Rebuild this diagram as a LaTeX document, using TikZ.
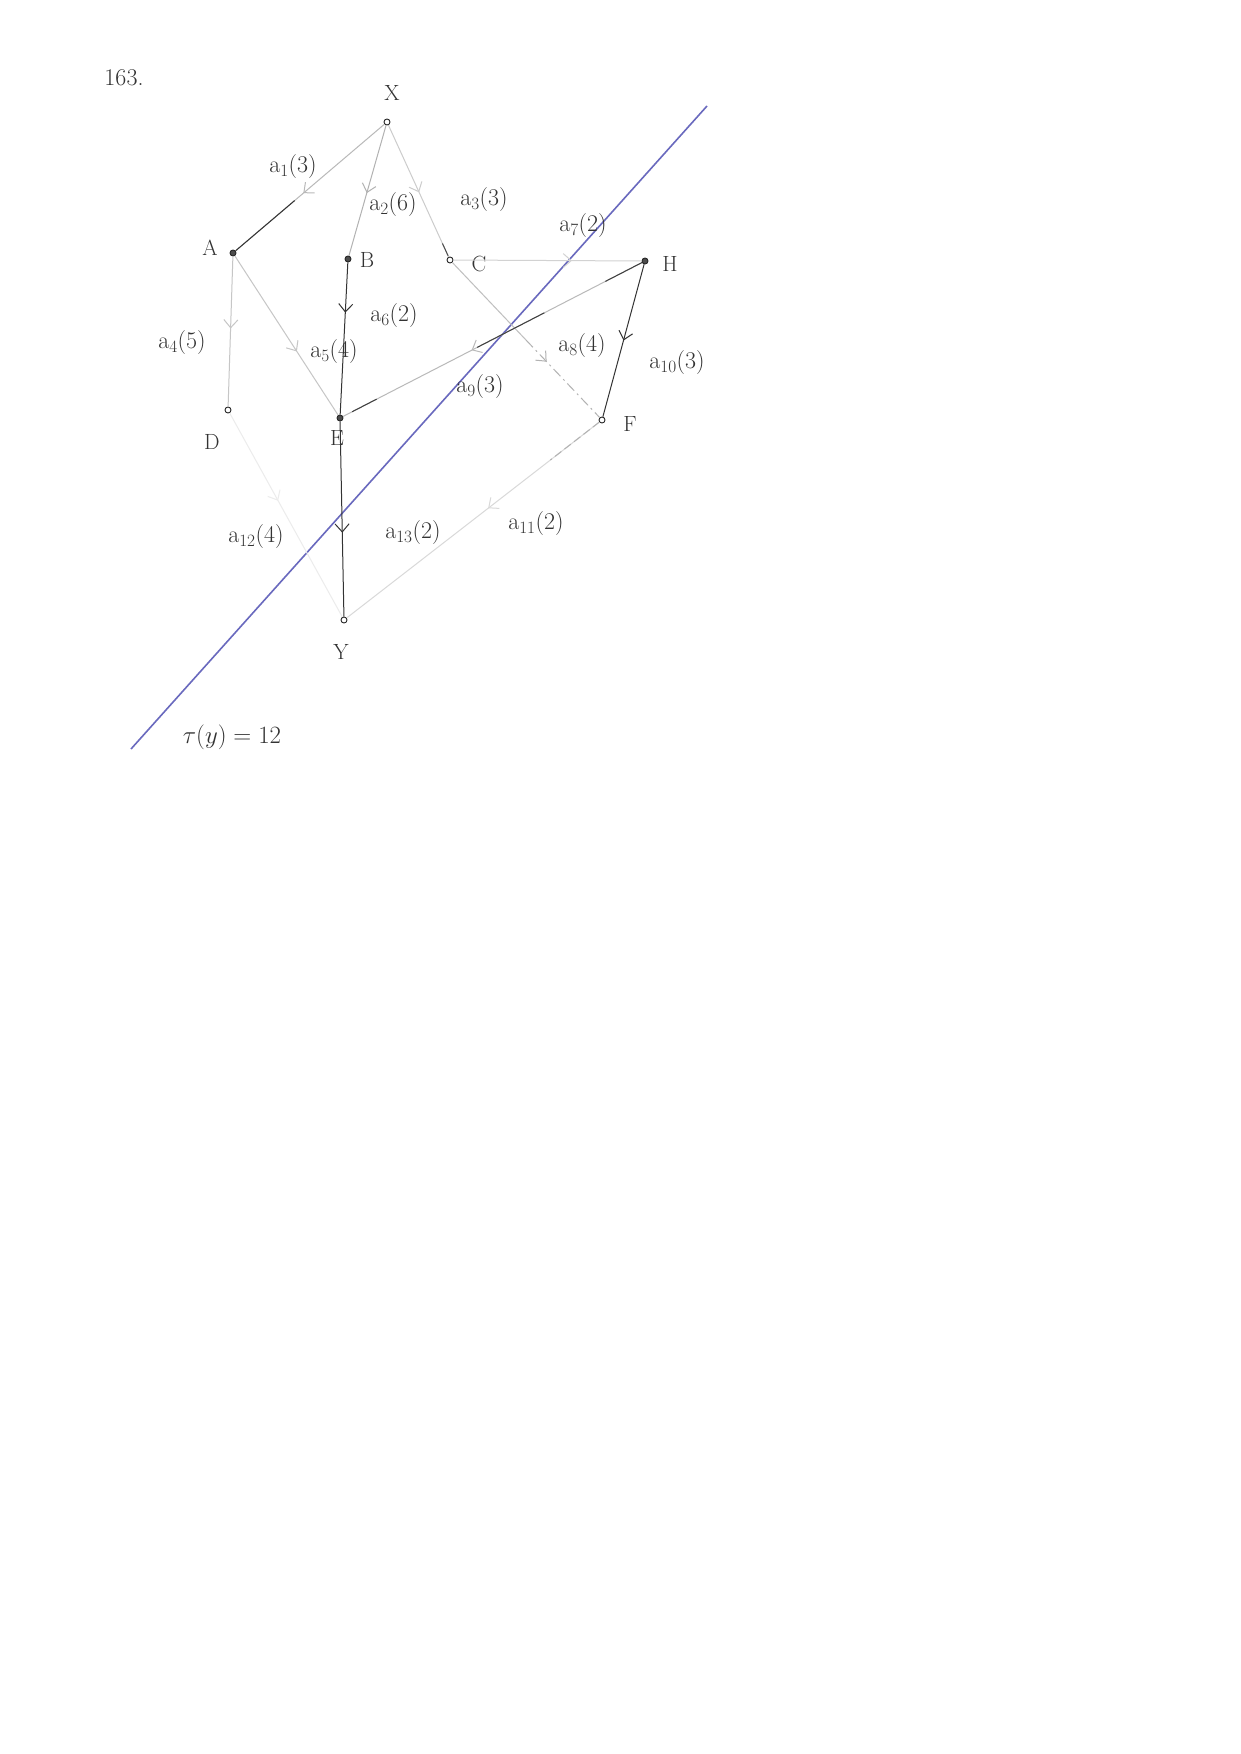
\documentclass[tikz,border=0pt]{standalone}
\usetikzlibrary{arrows.meta,decorations.markings,calc}
\begin{document}
\begin{tikzpicture}[x=1pt,y=-1pt,
  vtx/.style={circle, draw=black!85, fill=white, inner sep=0pt, minimum size=6pt, line width=0.9pt},
  vtxf/.style={vtx, fill=black!70},
  lbl/.style={font=\fontsize{24}{28}\selectfont, text=black!80, inner sep=1pt},
  nlbl/.style={font=\fontsize{22}{26}\selectfont, text=black!80, inner sep=1pt},
  edge/.style={line width=1pt},
  midarrow/.style={postaction={decorate}, decoration={markings, mark=at position #1 with {\arrow{Straight Barb[length=8pt,width=14pt,line width=1pt]}}}}
]
\fill[white] (0,0) rectangle (1240,1754);
\useasboundingbox (0,0) rectangle (1240,1754);

% reference line
\coordinate (L1) at (707,106);
\coordinate (L2) at (131,749);
\draw[line width=1.6pt, color={rgb,255:red,105;green,105;blue,190}] (L1) -- (L2);

% vertices
\node[vtx]  (X) at (387,122) {};
\node[vtxf] (A) at (233,253) {};
\node[vtxf] (B) at (348,259) {};
\node[vtx]  (C) at (450,260) {};
\node[vtx]  (D) at (228,410) {};
\node[vtxf] (E) at (340,418) {};
\node[vtx]  (F) at (602,420) {};
\node[vtxf] (H) at (645,261) {};
\node[vtx]  (Y) at (344,620) {};

% vertex names
\node[nlbl] (lX) at (392,93) {X};
\node[nlbl] (lA) at (210,248) {A};
\node[nlbl] (lB) at (367,260) {B};
\node[nlbl] (lC) at (479,264) {C};
\node[nlbl] (lD) at (212,442) {D};
\node[nlbl] (lE) at (337,438) {E};
\node[nlbl] (lF) at (630,424) {F};
\node[nlbl] (lH) at (670,264) {H};
\node[nlbl] (lY) at (341,652) {Y};

% arcs
\draw[edge, gray!55, midarrow=0.545] (X) -- (A);
\draw[edge, black!80] ($(X)!0.6!(A)$) -- (A);
\draw[edge, gray!60, midarrow=0.52] (X) -- (B);
\draw[edge, gray!40, midarrow=0.51] (X) -- (C);
\draw[edge, black!70] ($(X)!0.88!(C)$) -- ($(X)!0.97!(C)$);
\draw[edge, gray!45, midarrow=0.48] (A) -- (D);
\draw[edge, gray!45, midarrow=0.6] (A) -- (E);
\draw[edge, black!80, midarrow=0.33] (B) -- (E);
\draw[edge, gray!35, midarrow=0.63] (C) -- (H);
\draw[edge, gray!50] (C) -- ($(C)!0.5!(F)$);
\draw[edge, gray!60, dash pattern=on 10pt off 4pt on 2pt off 4pt, midarrow=0.28] ($(C)!0.5!(F)$) -- (F);
\draw[edge, gray!55, midarrow=0.57] (H) -- (E);
\draw[edge, black!75] (H) -- ($(H)!0.13!(E)$);
\draw[edge, black!75] ($(H)!0.33!(E)$) -- ($(H)!0.55!(E)$);
\draw[edge, black!75] ($(H)!0.88!(E)$) -- ($(H)!0.96!(E)$);
\draw[edge, black!80, midarrow=0.5] (H) -- (F);
\draw[edge, gray!30, midarrow=0.44] (F) -- (Y);
\draw[edge, gray!60, dash pattern=on 8pt off 4pt] (F) -- ($(F)!0.2!(Y)$);
\draw[edge, gray!15, midarrow=0.43] (D) -- (Y);
\draw[edge, black!80, midarrow=0.57] (E) -- (Y);

% arc labels
\node[lbl] (t1)  at (293,167) {a$_{1}$(3)};
\node[lbl] (t2)  at (393,205) {a$_{2}$(6)};
\node[lbl] (t3)  at (484,200) {a$_{3}$(3)};
\node[lbl] (t4)  at (182,343) {a$_{4}$(5)};
\node[lbl] (t5)  at (334,352) {a$_{5}$(4)};
\node[lbl] (t6)  at (394,316) {a$_{6}$(2)};
\node[lbl] (t7)  at (583,226) {a$_{7}$(2)};
\node[lbl] (t8)  at (582,346) {a$_{8}$(4)};
\node[lbl] (t9)  at (480,387) {a$_{9}$(3)};
\node[lbl] (t10) at (677,363) {a$_{10}$(3)};
\node[lbl] (t11) at (536,524) {a$_{11}$(2)};
\node[lbl] (t12) at (256,537) {a$_{12}$(4)};
\node[lbl] (t13) at (413,533) {a$_{13}$(2)};

% title and result
\node[lbl] (num) at (124,78) {163.};
\node[font=\fontsize{28}{32}\selectfont, text=black!80] (res) at (232,737) {$\tau(y) = 12$};
\end{tikzpicture}
\end{document}
